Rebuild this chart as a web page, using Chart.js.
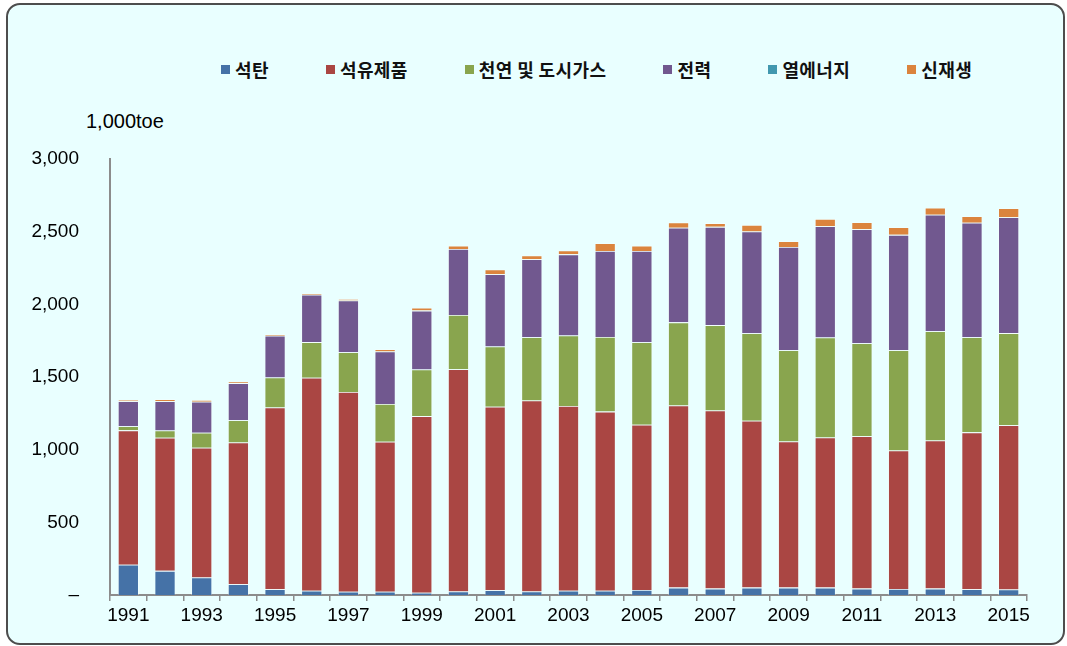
<!DOCTYPE html>
<html>
<head>
<meta charset="utf-8">
<script src="https://cdn.jsdelivr.net/npm/chart.js@4"></script>
<style>
  body { margin: 0; background: #fff; width: 1067px; height: 646px; overflow: hidden; position: relative; }
  #frame {
    position: absolute; left: 6px; top: 3px; width: 1055px; height: 638px;
    border: 2px solid #4d4d4d; border-radius: 14px; background: #e9ffff;
  }
  #legend {
    position: absolute; left: 221px; top: 56px; display: flex; align-items: center;
    font: bold 18px "Noto Sans CJK KR", sans-serif; color: #111; letter-spacing: 0.4px;
  }
  .item { display: flex; align-items: center; margin-right: 57px; }
  .item:last-child { margin-right: 0; }
  .box { width: 9px; height: 9px; margin-right: 5px; }
  #unit {
    position: absolute; left: 86px; top: 110px;
    font: 20px "Liberation Sans", Arial, sans-serif; color: #000;
  }
  canvas { position: absolute; left: 0; top: 0; }
</style>
</head>
<body>
<div id="frame"></div>
<div id="legend"></div>
<div id="unit">1,000toe</div>
<canvas id="chart" width="1067" height="646"></canvas>
<script>
let years = [
  "1991", "1992", "1993", "1994", "1995", "1996", "1997", "1998", "1999",
  "2000", "2001", "2002", "2003", "2004", "2005", "2006", "2007", "2008",
  "2009", "2010", "2011", "2012", "2013", "2014", "2015",
];

// 1,000toe
let coal = [208, 166, 120, 74, 40, 29, 22, 22, 15, 24, 33, 24, 29, 29, 35, 51, 44, 51, 51, 51, 44, 42, 44, 40, 38];
let oil = [925, 916, 893, 976, 1250, 1466, 1375, 1032, 1216, 1530, 1262, 1315, 1271, 1233, 1137, 1253, 1225, 1148, 1005, 1033, 1048, 952, 1019, 1079, 1130];
let gas = [28, 50, 104, 153, 207, 245, 273, 261, 321, 373, 415, 434, 486, 513, 567, 572, 588, 602, 628, 688, 641, 690, 752, 654, 634];
let power = [173, 201, 213, 255, 287, 326, 357, 360, 405, 454, 497, 537, 558, 592, 628, 651, 676, 700, 711, 766, 784, 794, 801, 789, 797];
let heat = [0, 0, 0, 0, 0, 0, 0, 0, 0, 0, 0, 0, 0, 0, 0, 0, 0, 0, 0, 0, 0, 0, 0, 0, 0];
let renew = [10, 14, 12, 11, 11, 9, 9, 16, 19, 23, 33, 27, 26, 53, 37, 37, 26, 45, 39, 49, 48, 53, 49, 44, 62];

let names = ["석탄", "석유제품", "천연 및 도시가스", "전력", "열에너지", "신재생"];
let colors = ["#4572a7", "#aa4643", "#89a54e", "#71588f", "#4198af", "#db843d"];
let series = [coal, oil, gas, power, heat, renew];

let datasets = series.map((data, i) => ({
  label: names[i],
  data: data,
  backgroundColor: colors[i],
  borderColor: "rgba(255, 255, 255, 0.45)",
  borderWidth: data === heat ? 0 : 0.8,
  barPercentage: 0.57,
  categoryPercentage: 1,
}));

let legendMarkUp = "";
names.forEach((name, i) => {
  legendMarkUp += `<div class="item"><span class="box" style="background:${colors[i]}"></span>${name}</div>`;
});
document.querySelector("#legend").innerHTML = legendMarkUp;

let tickFont = { family: "'Liberation Sans', Arial, sans-serif", size: 19 };

new Chart(document.querySelector("#chart"), {
  type: "bar",
  data: { labels: years, datasets: datasets },
  options: {
    responsive: false,
    animation: false,
    layout: { padding: { top: 159, right: 40, bottom: 0, left: 0 } },
    plugins: {
      legend: { display: false },
      tooltip: { enabled: false },
    },
    scales: {
      x: {
        stacked: true,
        afterFit: (scale) => { scale.height = 51; },
        border: { color: "#8c8c8c", width: 2 },
        grid: { offset: true, drawOnChartArea: false, tickLength: 6, color: "#8c8c8c", lineWidth: 1.5 },
        ticks: {
          autoSkip: false,
          maxRotation: 0,
          padding: 3,
          color: "#000",
          font: tickFont,
          callback: function (value, index) {
            return index % 2 === 0 ? this.getLabelForValue(value) : "";
          },
        },
      },
      y: {
        stacked: true,
        min: 0,
        max: 3000,
        afterFit: (scale) => { scale.width = 110; },
        border: { color: "#8c8c8c", width: 2 },
        grid: { display: false },
        ticks: {
          stepSize: 500,
          padding: 23,
          color: "#000",
          font: tickFont,
          callback: (v) => (v === 0 ? "–" : v.toLocaleString("en-US")),
        },
      },
    },
  },
});
</script>
</body>
</html>
